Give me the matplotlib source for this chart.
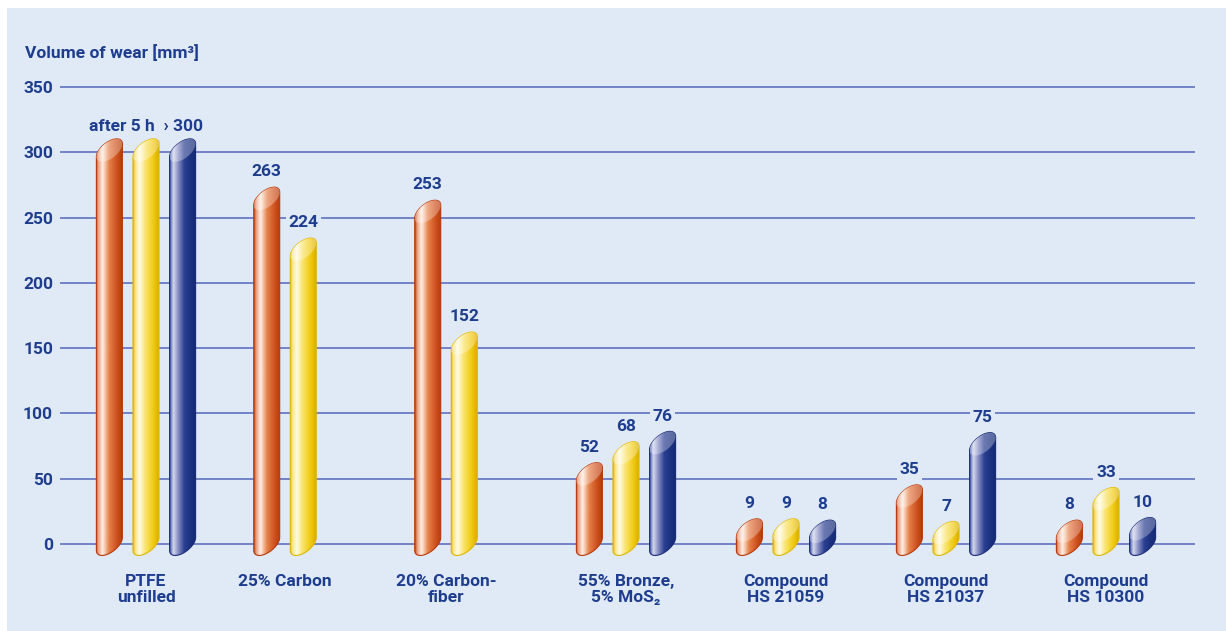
import numpy
import matplotlib

matplotlib.use("AGG")
from matplotlib import pyplot
from matplotlib.patches import Polygon, Rectangle
from matplotlib.colors import to_rgb

# data
categories = ["PTFE\nunfilled", "25% Carbon", "20% Carbon-\nfiber",
              "55% Bronze,\n5% MoS\u2082", "Compound\nHS 21059",
              "Compound\nHS 21037", "Compound\nHS 10300"]
wear_orange = [300, 263, 253, 52, 9, 35, 8]
wear_yellow = [300, 224, 152, 68, 9, 7, 33]
wear_blue = [300, None, None, 76, 8, 75, 10]
y_ticks = [0, 50, 100, 150, 200, 250, 300, 350]
ptfe_note = "after 5 h  \u203a 300"
y_title = "Volume of wear [mm\u00b3]"

# layout (pixel based)
W, H = 1226, 631
group_x = [146, 285, 446, 626, 786, 946, 1106]
bar_step = 36.6
half_w = 13
k = 457 / 350.0          # px per data unit
zero_px = 87             # y=0 from bottom

panel = "#dfeaf6"
text_c = "#1f3d8e"
grid_c = "#7383c9"
FS = 12.5
FW = "bold"

pyplot.rcParams["font.family"] = ["Roboto", "DejaVu Sans"]

# gradients across bar width: (pos, colour)
grads = {
    "orange": [(0, "#c2441a"), (0.07, "#e99a78"), (0.25, "#fff1e8"),
               (0.5, "#e6824a"), (0.8, "#cf521f"), (1, "#b63e0d")],
    "yellow": [(0, "#e2b900"), (0.07, "#f7e27a"), (0.25, "#fffbe6"),
               (0.5, "#f9e266"), (0.8, "#f0ca0e"), (1, "#dcae00")],
    "blue": [(0, "#4a5aa6"), (0.12, "#d6daf0"), (0.3, "#8d95c8"),
             (0.55, "#2b3f92"), (0.8, "#1b317f"), (1, "#132a74")],
}
edges = {"orange": "#b8380c", "yellow": "#e0b400", "blue": "#1a2c78"}


def grad_img(stops, n=64, lighten=0.0):
    pos = numpy.array([s[0] for s in stops])
    cols = numpy.array([to_rgb(s[1]) for s in stops])
    t = numpy.linspace(0, 1, n)
    img = numpy.stack([numpy.interp(t, pos, cols[:, i]) for i in range(3)], axis=-1)
    img = img + (1 - img) * lighten
    return img[numpy.newaxis, :, :]


def draw_bar(ax, xc, v, name):
    a = half_w
    slant = 5.0
    b = 7.2
    ct = v + 1.5
    cb = 0.0
    th1 = numpy.linspace(0, numpy.pi, 60)
    th2 = numpy.linspace(numpy.pi, 2 * numpy.pi, 60)
    xs = numpy.concatenate([xc + a * numpy.cos(th1), xc + a * numpy.cos(th2)])
    ys = numpy.concatenate([ct + slant * numpy.cos(th1) + b * numpy.sin(th1),
                            cb + slant * numpy.cos(th2) + b * numpy.sin(th2)])
    body = Polygon(numpy.column_stack([xs, ys]), closed=True,
                   facecolor="none", edgecolor=edges[name], lw=0.8, zorder=4)
    ax.add_patch(body)
    im = ax.imshow(grad_img(grads[name]), extent=(xc - a, xc + a, -20, ct + 20),
                   aspect="auto", interpolation="bicubic", zorder=3)
    im.set_clip_path(body)

    # cut face at the top, a little lighter
    th = numpy.linspace(0, 2 * numpy.pi, 100)
    cx = xc + a * numpy.cos(th)
    cy = ct + slant * numpy.cos(th) + b * numpy.sin(th)
    cap = Polygon(numpy.column_stack([cx, cy]), closed=True,
                  facecolor="none", edgecolor="none", zorder=5)
    ax.add_patch(cap)
    im2 = ax.imshow(grad_img(grads[name], lighten=0.3),
                    extent=(xc - a, xc + a, ct - 15, ct + 15),
                    aspect="auto", interpolation="bicubic", zorder=5)
    im2.set_clip_path(cap)


fig = pyplot.figure(figsize=(W / 100, H / 100), dpi=100, facecolor="white")
fig.patches.append(Rectangle((7 / W, 0), 1, (H - 8) / H, transform=fig.transFigure,
                             facecolor=panel, edgecolor="none", zorder=-10))

ax = fig.add_axes([60 / W, 0, (1195 - 60) / W, 1])
ax.set_facecolor("none")
for s in ax.spines.values():
    s.set_visible(False)

for t in y_ticks:
    ax.axhline(t, color=grid_c, lw=1.4, zorder=1)

series = [("orange", wear_orange), ("yellow", wear_yellow), ("blue", wear_blue)]
for gi, gx in enumerate(group_x):
    present = [(n, vals[gi]) for n, vals in series if vals[gi] is not None]
    m = len(present)
    for j, (n, v) in enumerate(present):
        xc = gx + (j - (m - 1) / 2) * bar_step
        draw_bar(ax, xc, v, n)
        if gi > 0:
            ax.text(xc, v + 22, str(v), ha="center", va="center", color=text_c,
                    fontsize=FS, fontweight=FW, zorder=6,
                    bbox=dict(facecolor=panel, edgecolor="none", pad=2))
    ax.text(gx, -22.8, categories[gi], ha="center", va="top", color=text_c,
            fontsize=FS, fontweight=FW, linespacing=1.12)

ax.text(group_x[0], 320, ptfe_note, ha="center", va="center", color=text_c,
        fontsize=FS, fontweight=FW, zorder=6)

ax.set_xlim(60, 1195)
ax.set_ylim(-zero_px / k, (H - zero_px) / k)
ax.set_xticks([])
ax.set_yticks(y_ticks)
ax.tick_params(axis="y", length=0, pad=5, labelcolor=text_c, labelsize=FS)
for lab in ax.get_yticklabels():
    lab.set_fontweight(FW)

fig.text(25 / W, 1 - 53 / H, y_title, ha="left", va="center", color=text_c,
         fontsize=FS, fontweight=FW)

fig.savefig("out.png", dpi=100, facecolor="white")
pyplot.close()
